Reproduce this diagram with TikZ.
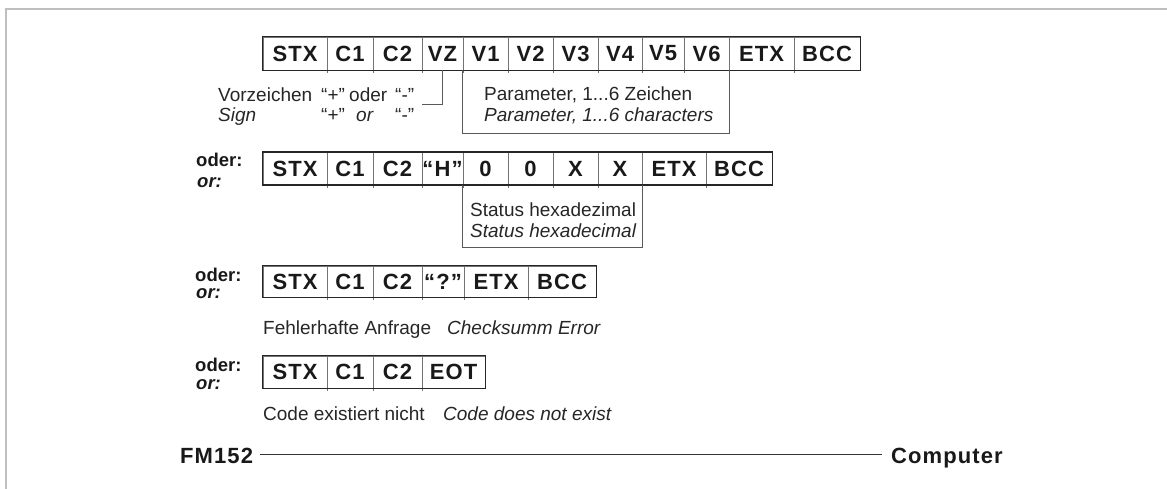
\documentclass[tikz,border=0pt]{standalone}
\usepackage{fontspec}
\setmainfont{Liberation Sans}
\newfontfamily\cellfont{Liberation Sans}[LetterSpace=5]
\begin{document}
\begin{tikzpicture}[x=1pt,y=-1pt,
  cell/.style={draw=black!55, line width=0.8pt, inner sep=0pt,
    font=\cellfont\bfseries\fontsize{22}{26}\selectfont, text=black!90},
  outer/.style={draw=black!85, line width=1.7pt},
  tick/.style={draw=black!55, line width=0.8pt},
  note/.style={draw=black!65, line width=0.9pt},
  txt/.style={inner sep=0pt, anchor=base west, font=\fontsize{19}{22}\selectfont, text=black!85},
  itxt/.style={txt, font=\itshape\fontsize{19}{22}\selectfont},
  lab/.style={inner sep=0pt, anchor=base west, font=\bfseries\fontsize{18.5}{21}\selectfont, text=black!90},
  ilab/.style={lab, font=\bfseries\itshape\fontsize{18.5}{21}\selectfont},
  big/.style={inner sep=0pt, anchor=base west, font=\cellfont\bfseries\fontsize{22}{26}\selectfont, text=black!90},
  frame/.style={draw=black!25, line width=2pt}]
\useasboundingbox (0,0) rectangle (1167,489);
\draw[frame] (6,489) -- (6,9) -- (1167,9);

% ---- row 1
\foreach \t/\a/\b [count=\i] in {STX/263/327, C1/327/373, C2/373/422, VZ/422/463, V1/463/508, V2/508/553, V3/553/598, V4/598/642, V5/642/684, V6/684/729, ETX/729/794, BCC/794/860}
  \node[cell, minimum width={(\b-\a)*1pt}, minimum height=33pt] (r1c\i) at ({(\a+\b)/2},53.5) {\t};
\foreach \i in {1,...,11} \draw[tick] (r1c\i.south east) -- ++(0,3);
\draw[outer] (r1c1.north west) rectangle (r1c12.south east);

\coordinate (vzend) at (422,104);
\draw[note] (r1c4.south) |- (vzend);
\coordinate (parb) at (600,133);
\draw[note] (r1c5.south west) -- (r1c5.south west |- parb) -- (r1c10.south east |- parb) -- (r1c10.south east);
\node[txt] (p1) at (484,101) {Parameter, 1...6 Zeichen};
\node[itxt] (p2) at (484,122) {Parameter, 1...6 characters};

\node[txt] (vz1) at (218,102) {Vorzeichen};
\node[txt] (vz2) at (321,102) {“+”};
\node[txt] (vz3) at (349,102) {oder};
\node[txt] (vz4) at (395,102) {“-”};
\node[itxt] (sg1) at (218,122) {Sign};
\node[txt] (sg2) at (321,122) {“+”};
\node[itxt] (sg3) at (356,122) {or};
\node[txt] (sg4) at (395,122) {“-”};

% ---- row 2
\node[lab] (o2) at (196,167) {oder:};
\node[ilab] (e2) at (197,188) {or:};
\foreach \t/\a/\b [count=\i] in {STX/263/327, C1/327/373, C2/373/422, “H”/422/463, 0/463/508, 0/508/553, X/553/598, X/598/642, ETX/642/706, BCC/706/772}
  \node[cell, minimum width={(\b-\a)*1pt}, minimum height=32pt] (r2c\i) at ({(\a+\b)/2},168.5) {\t};
\foreach \i in {1,...,9} \draw[tick] (r2c\i.south east) -- ++(0,3);
\draw[outer] (r2c1.north west) rectangle (r2c10.south east);
\coordinate (stb) at (550,247);
\draw[note] (r2c5.south west) -- (r2c5.south west |- stb) -- (r2c8.south east |- stb) -- (r2c8.south east);
\node[txt] (s1) at (470,217) {Status hexadezimal};
\node[itxt] (s2) at (470,237) {Status hexadecimal};

% ---- row 3
\node[lab] (o3) at (195,281) {oder:};
\node[ilab] (e3) at (196,298) {or:};
\foreach \t/\a/\b [count=\i] in {STX/263/327, C1/327/373, C2/373/422, “?”/422/464, ETX/464/528, BCC/528/596}
  \node[cell, minimum width={(\b-\a)*1pt}, minimum height=31pt] (r3c\i) at ({(\a+\b)/2},281.5) {\t};
\foreach \i in {1,...,5} \draw[tick] (r3c\i.south east) -- ++(0,3);
\draw[outer] (r3c1.north west) rectangle (r3c6.south east);
\node[txt] (f1) at (263,334) {Fehlerhafte Anfrage};
\node[itxt] (f2) at (447,334) {Checksumm Error};

% ---- row 4
\node[lab] (o4) at (195,371) {oder:};
\node[ilab] (e4) at (196,389) {or:};
\foreach \t/\a/\b [count=\i] in {STX/263/327, C1/327/373, C2/373/422, EOT/422/485}
  \node[cell, minimum width={(\b-\a)*1pt}, minimum height=32pt] (r4c\i) at ({(\a+\b)/2},372) {\t};
\foreach \i in {1,...,3} \draw[tick] (r4c\i.south east) -- ++(0,3);
\draw[outer] (r4c1.north west) rectangle (r4c4.south east);
\node[txt] (c1) at (263,420) {Code existiert nicht};
\node[itxt] (c2) at (443,420) {Code does not exist};

% ---- bottom line
\node[big] (fm) at (180,463) {FM152};
\node[big] (comp) at (891,463) {Computer};
\coordinate (lnL) at (260,454);
\coordinate (lnR) at (882,454);
\draw[black!80, line width=0.9pt] (lnL) -- (lnR);
\end{tikzpicture}
\end{document}
